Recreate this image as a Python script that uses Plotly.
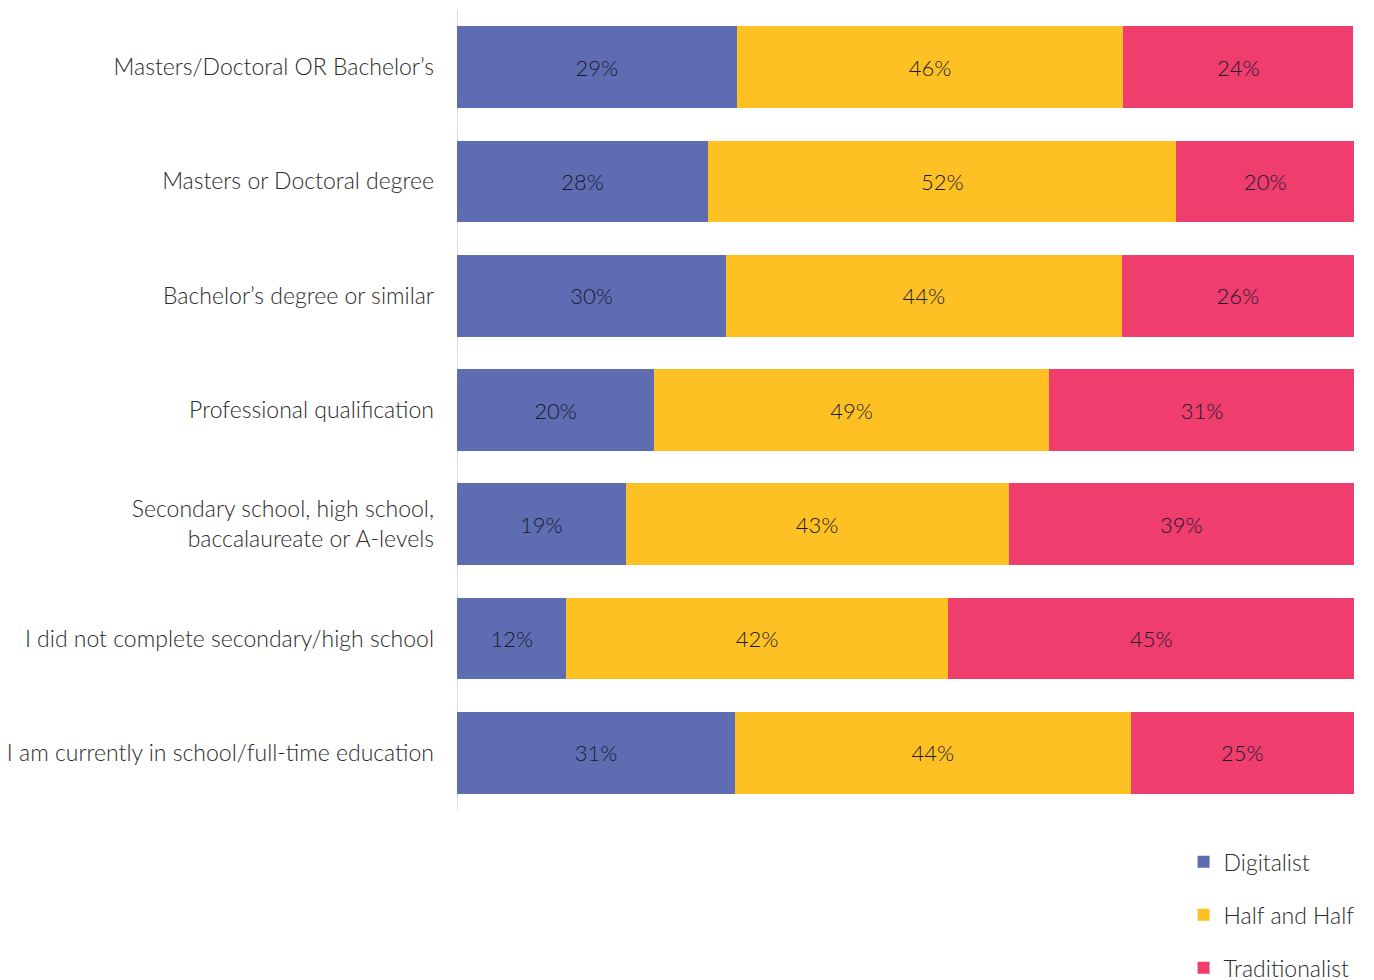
import plotly.graph_objects as go

categories = [
    "Masters/Doctoral OR Bachelor’s",
    "Masters or Doctoral degree",
    "Bachelor’s degree or similar",
    "Professional qualification",
    "Secondary school, high school,<br>baccalaureate or A-levels",
    "I did not complete secondary/high school",
    "I am currently in school/full-time education",
]

# bar lengths as drawn (percent of row)
digitalist = [31.2, 28.0, 30.0, 22.0, 18.8, 12.2, 31.0]
half_and_half = [43.1, 52.2, 44.1, 44.0, 42.7, 42.5, 44.1]
traditionalist = [25.6, 19.8, 25.9, 34.1, 38.5, 45.4, 24.9]

# labels as printed
digitalist_labels = ["29%", "28%", "30%", "20%", "19%", "12%", "31%"]
half_labels = ["46%", "52%", "44%", "49%", "43%", "42%", "44%"]
trad_labels = ["24%", "20%", "26%", "31%", "39%", "45%", "25%"]

series = [
    ("Digitalist", digitalist, digitalist_labels, "#5E6DB2"),
    ("Half and Half", half_and_half, half_labels, "#FEC124"),
    ("Traditionalist", traditionalist, trad_labels, "#EF3E6E"),
]

FONT = "Lato"

fig = go.Figure()
for name, vals, labels, color in series:
    fig.add_trace(go.Bar(
        y=categories, x=vals, name=name, orientation="h",
        marker=dict(color=color, line=dict(width=0)),
        text=labels, textposition="inside", insidetextanchor="middle",
        textangle=0,
        textfont=dict(family=FONT, size=22, color="#1a1a2e", weight=300),
        legendgroup=name, width=0.715,
        hoverinfo="skip",
    ))

fig.update_layout(
    barmode="stack",
    width=1374, height=980,
    margin=dict(l=449, r=28, t=2, b=178, autoexpand=False),
    plot_bgcolor="white", paper_bgcolor="white",
    font=dict(family=FONT, size=23, color="#2a2a2a", weight=300),
    uniformtext=dict(minsize=22, mode="show"),
    showlegend=True,
    legend=dict(
        x=0.81, xanchor="left", y=-0.038, yanchor="top",
        traceorder="grouped", tracegroupgap=20,
        font=dict(family=FONT, size=23, color="#2a2a2a", weight=300),
        bgcolor="rgba(0,0,0,0)",
    ),
    xaxis=dict(range=[0, 100], visible=False, fixedrange=True),
    yaxis=dict(
        autorange="reversed", showgrid=False, zeroline=False,
        showline=False, ticks="", ticklabelstandoff=22,
        tickfont=dict(family=FONT, size=23, color="#2a2a2a", weight=300),
    ),
    shapes=[dict(type="line", xref="x", yref="paper", x0=0, x1=0, y0=0, y1=1,
                 line=dict(color="#D3DFE3", width=2), layer="below")],
)

fig.write_html("out.html")
